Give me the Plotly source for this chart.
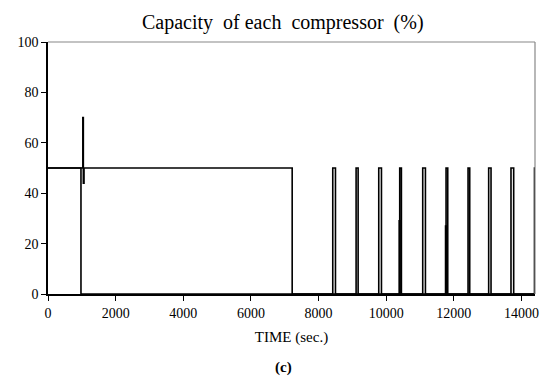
import plotly.graph_objects as go

# ---- data ----
# compressor 1: step profile (time in s, capacity in %)
c1_time = [0, 1030, 1030, 1045, 1045, 1065, 1065, 7220, 7220]
c1_cap = [50, 50, 70, 70, 44, 44, 50, 50, 0]
# compressor 2: step profile
c2_time = [0, 975, 975, 14450]
c2_cap = [50, 50, 0, 0]
# cyclic on/off pulses after 7200 s (compressor 1 at 50 %)
pulse_start = [8420, 9110, 9780, 10400, 11080, 11770, 12420, 13030, 13690, 14385]
pulse_width = [80, 60, 80, 50, 80, 50, 50, 70, 80, 60]
pulse_level = [50, 50, 50, 50, 50, 50, 50, 50, 50, 50]
# partial pulses of compressor 2
part_start = [10385, 11755]
part_width = [20, 20]
part_level = [29, 27]

x_ticks = [0, 2000, 4000, 6000, 8000, 10000, 12000, 14000]
x_tick_labels = ["0", "2000", "4000", "6000", "8000", "10000", "12000", "14000"]
y_ticks = [0, 20, 40, 60, 80, 100]
y_tick_labels = ["0", "20", "40", "60", "80", "100"]


def add_pulses(t, v, starts, widths, levels):
    t, v = list(t), list(v)
    for s, w, lv in zip(starts, widths, levels):
        t += [s, s, s + w, s + w]
        v += [0, lv, lv, 0]
    return t, v


t1, v1 = add_pulses(c1_time, c1_cap, pulse_start, pulse_width, pulse_level)
t2, v2 = add_pulses(c2_time, c2_cap, part_start, part_width, part_level)

font_family = "Liberation Serif, Times New Roman, serif"

fig = go.Figure()
fig.add_trace(go.Scatter(x=t2, y=v2, mode="lines",
                         line=dict(color="black", width=1.6), showlegend=False))
fig.add_trace(go.Scatter(x=t1, y=v1, mode="lines",
                         line=dict(color="black", width=1.6), showlegend=False))

# the page body adds an 8 px offset, so the figure is sized/margined to compensate
fig.update_layout(
    width=542, height=375,
    margin=dict(l=40, r=15, t=34, b=89, autoexpand=False),
    paper_bgcolor="white", plot_bgcolor="white",
    font=dict(family=font_family, color="black", size=14),
    title=dict(text="Capacity  of each  compressor  (%)", x=0.507, xanchor="center",
               y=0.963, yanchor="middle", automargin=False,
               font=dict(size=20, family=font_family)),
    xaxis=dict(range=[0, 14400], tickvals=x_ticks, ticktext=x_tick_labels,
               ticks="outside", ticklen=5, automargin=False,
               tickcolor="black", showline=True, linecolor="black", linewidth=1.5,
               showgrid=False, zeroline=False,
               title=dict(text="TIME (sec.)", standoff=12, font=dict(size=15))),
    yaxis=dict(range=[0, 100], tickvals=y_ticks, ticktext=y_tick_labels,
               ticks="outside", ticklen=5, automargin=False,
               tickcolor="black", showline=True, linecolor="black", linewidth=1.5,
               showgrid=False, zeroline=False),
    shapes=[
        dict(type="line", xref="paper", yref="paper", x0=0, x1=1, y0=1, y1=1,
             line=dict(color="#888888", width=1.2)),
        dict(type="line", xref="paper", yref="paper", x0=1, x1=1, y0=0, y1=1,
             line=dict(color="#888888", width=1.2)),
    ],
    annotations=[
        dict(text="<b>(c)</b>", xref="paper", yref="paper", x=0.483, y=-0.29,
             xanchor="center", yanchor="middle", showarrow=False,
             font=dict(size=15, family=font_family)),
    ],
)

fig.write_html("out.html")
